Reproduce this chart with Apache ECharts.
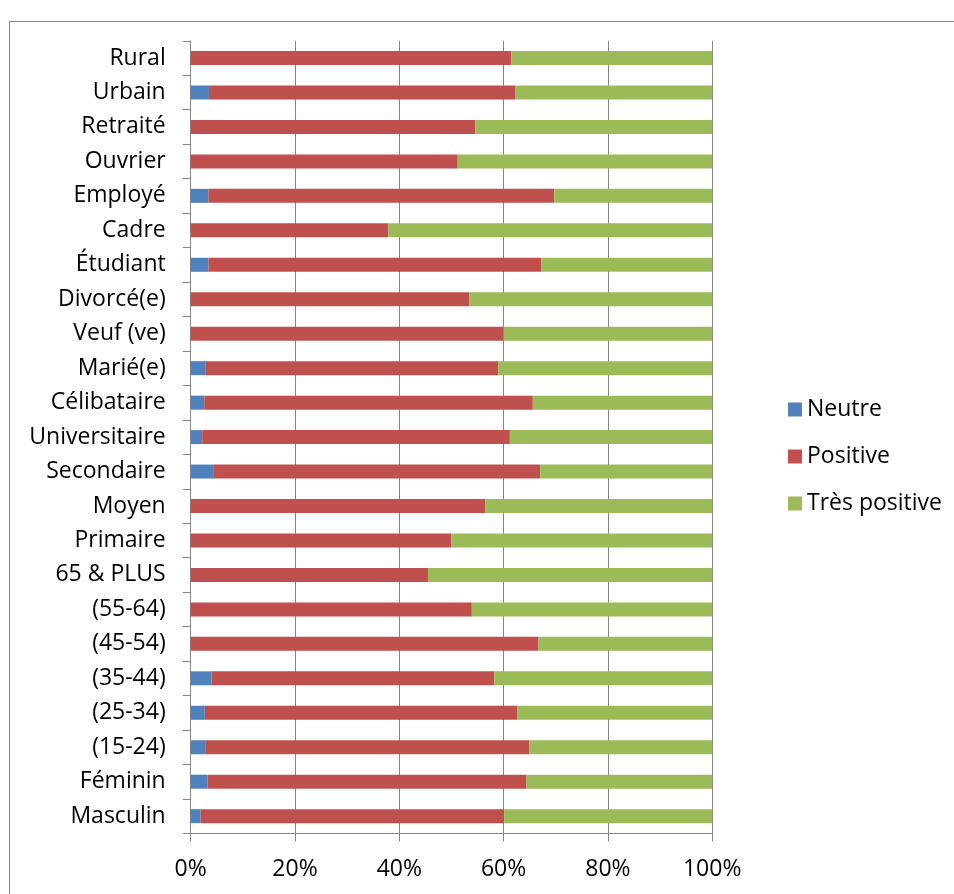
<!DOCTYPE html>
<html>
<head>
<meta charset="utf-8">
<script src="https://cdn.jsdelivr.net/npm/echarts@6/dist/echarts.min.js"></script>
<style>
  html, body { margin: 0; padding: 0; background: #fff; }
  #chart { width: 954px; height: 894px; }
</style>
</head>
<body>
<div id="chart"></div>
<script>
// Categories listed bottom to top (category y axis starts at the bottom)
const categories = [
  'Masculin', 'Féminin', '(15-24)', '(25-34)', '(35-44)', '(45-54)', '(55-64)',
  '65 & PLUS', 'Primaire', 'Moyen', 'Secondaire', 'Universitaire', 'Célibataire',
  'Marié(e)', 'Veuf (ve)', 'Divorcé(e)', 'Étudiant', 'Cadre', 'Employé',
  'Ouvrier', 'Retraité', 'Urbain', 'Rural'
];

// Shares in percent, same order as categories
const neutre = [
  1.9, 3.2, 2.9, 2.7, 4.0, 0, 0,
  0, 0, 0, 4.3, 2.2, 2.6,
  2.9, 0, 0, 3.4, 0, 3.4,
  0, 0, 3.5, 0
];
const positive = [
  58.2, 61.2, 62.0, 59.9, 54.2, 66.7, 53.9,
  45.5, 50.0, 56.5, 62.7, 59.0, 63.0,
  56.1, 60.0, 53.4, 63.8, 37.9, 66.3,
  51.2, 54.6, 58.7, 61.5
];
const tresPositive = [
  39.9, 35.6, 35.1, 37.4, 41.8, 33.3, 46.1,
  54.5, 50.0, 43.5, 33.0, 38.8, 34.4,
  41.0, 40.0, 46.6, 32.8, 62.1, 30.3,
  48.8, 45.4, 37.8, 38.5
];

const xTicks = [0, 20, 40, 60, 80, 100];

const FONT = '"Open Sans", "Noto Sans", sans-serif';
const FONT_SIZE = 23;
const GRAY = '#868686';

const chart = echarts.init(document.getElementById('chart'));

function barSeries(name, data, color) {
  return {
    name: name,
    type: 'bar',
    stack: 'total',
    barWidth: 14,
    data: data,
    itemStyle: { color: color },
    emphasis: { disabled: true }
  };
}

chart.setOption({
  animation: false,
  backgroundColor: '#fff',
  graphic: [{
    type: 'rect',
    shape: { x: 9.5, y: 21.5, width: 1000, height: 1000 },
    style: { fill: 'none', stroke: GRAY, lineWidth: 1 },
    silent: true
  }],
  grid: { left: 190.7, top: 40.8, width: 521.5, height: 792.6, containLabel: false },
  legend: {
    orient: 'vertical',
    left: 783,
    top: 393,
    itemWidth: 14,
    itemHeight: 14,
    itemGap: 24,
    itemTextGap: 8,
    icon: 'rect',
    textStyle: { fontFamily: FONT, fontSize: FONT_SIZE, color: '#000' },
    data: ['Neutre', 'Positive', 'Très positive']
  },
  xAxis: {
    type: 'value',
    min: xTicks[0],
    max: xTicks[xTicks.length - 1],
    interval: 20,
    axisLine: { show: true, lineStyle: { color: GRAY, width: 1 } },
    axisTick: { show: true, length: 8, lineStyle: { color: GRAY } },
    splitLine: { show: true, lineStyle: { color: GRAY, width: 1 } },
    axisLabel: {
      margin: 25,
      fontFamily: FONT,
      fontSize: FONT_SIZE,
      color: '#000',
      formatter: v => v + '%'
    }
  },
  yAxis: {
    type: 'category',
    data: categories,
    axisLine: { show: true, lineStyle: { color: GRAY, width: 1 } },
    axisTick: { show: true, length: 8, inside: false, alignWithLabel: false, lineStyle: { color: GRAY } },
    axisLabel: {
      margin: 25,
      fontFamily: FONT,
      fontSize: FONT_SIZE,
      color: '#000'
    }
  },
  series: [
    barSeries('Neutre', neutre, '#4F81BD'),
    barSeries('Positive', positive, '#C0504D'),
    barSeries('Très positive', tresPositive, '#9BBB59')
  ]
});
</script>
</body>
</html>
